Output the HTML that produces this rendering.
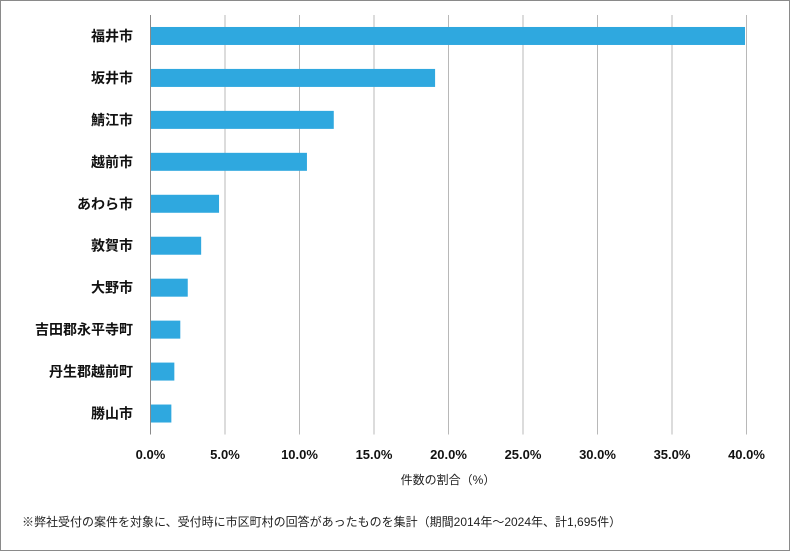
<!DOCTYPE html>
<html><head><meta charset="utf-8"><style>
body{margin:0;background:#fff}
svg text{font-family:"Liberation Sans","Noto Sans CJK JP",sans-serif}
</style></head><body>
<svg width="790" height="551" xmlns="http://www.w3.org/2000/svg">
<rect x="0.5" y="0.5" width="789" height="550" fill="#fff" stroke="#8a8a8a"/>
<g id="grid"></g><g id="bars"></g><g id="labels"></g><g id="ticks"></g>
<line x1="150.5" y1="15" x2="150.5" y2="434.5" stroke="#8a8a8a"/>
<text x="448" y="484" font-size="12" text-anchor="middle" fill="#222">件数の割合（%）</text>
<text x="22" y="526" font-size="12" fill="#222">※弊社受付の案件を対象に、受付時に市区町村の回答があったものを集計（期間2014年～2024年、計1,695件）</text>
</svg>
<script>
const categories=["福井市","坂井市","鯖江市","越前市","あわら市","敦賀市","大野市","吉田郡永平寺町","丹生郡越前町","勝山市"];
const values=[39.9,19.1,12.3,10.5,4.6,3.4,2.5,2.0,1.6,1.4];
const tickValues=[0,5,10,15,20,25,30,35,40];
const tickLabels=["0.0%","5.0%","10.0%","15.0%","20.0%","25.0%","30.0%","35.0%","40.0%"];
const NS="http://www.w3.org/2000/svg";
const x0=150.5,x1=746.5,yTop=15,yBottom=434.5,maxV=40;
const xs=v=>x0+(v/maxV)*(x1-x0);
const band=(yBottom-yTop)/categories.length;
const yc=i=>yTop+band*(i+0.5);
function mk(t,a,p){const e=document.createElementNS(NS,t);for(const k in a)e.setAttribute(k,a[k]);p.appendChild(e);return e;}
const g=document.getElementById('grid'),b=document.getElementById('bars'),l=document.getElementById('labels'),tk=document.getElementById('ticks');
tickValues.forEach((v,i)=>{
 if(v>0){const ln=mk('line',{x1:xs(v),x2:xs(v),y1:yTop,y2:yBottom,stroke:'#b8b8b8'},g);
 
 }
 const t=mk('text',{x:xs(v),y:459,'font-size':13,'font-weight':'bold','text-anchor':'middle',fill:'#111'},tk);
 t.textContent=tickLabels[i];
 
 
});
categories.forEach((c,i)=>{
 const r=mk('rect',{x:x0,y:yc(i)-9,width:xs(values[i])-x0,height:18,fill:'#2fa8df'},b);
 
 
 const t=mk('text',{x:133,y:yc(i)+5,'font-size':14,'font-weight':'bold','text-anchor':'end',fill:'#111'},l);
 t.textContent=c;
 
 
});
</script>
</body></html>
